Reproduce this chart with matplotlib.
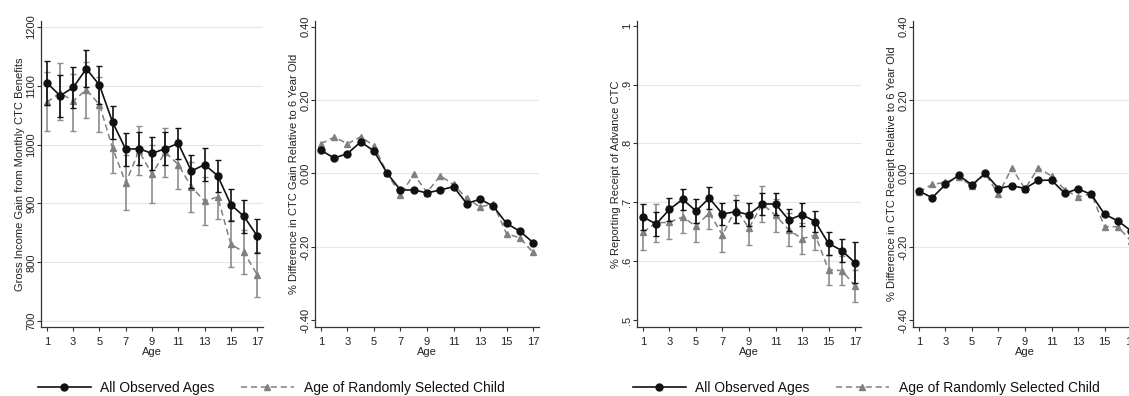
import matplotlib.pyplot as plt
import numpy as np
from matplotlib.lines import Line2D

plt.rcParams['font.family'] = ['Liberation Sans', 'DejaVu Sans']

ages = np.arange(1, 18)

# Gross income gain from monthly CTC (dollars)
gain_all = [1105, 1083, 1097, 1129, 1101, 1038, 992, 993, 985, 993, 1002,
            955, 966, 947, 898, 878, 845]
gain_all_lo = [1068, 1047, 1063, 1097, 1069, 1010, 963, 965, 957, 965, 975,
               927, 938, 920, 870, 850, 816]
gain_all_hi = [1142, 1118, 1132, 1161, 1133, 1066, 1020, 1021, 1013, 1021,
               1029, 983, 995, 974, 925, 905, 874]
gain_rand = [1072, 1088, 1074, 1093, 1068, 994, 935, 989, 950, 987, 966,
             928, 904, 911, 831, 817, 779]
gain_rand_lo = [1023, 1041, 1023, 1046, 1021, 951, 888, 948, 900, 945, 924,
                885, 863, 873, 792, 780, 741]
gain_rand_hi = [1123, 1139, 1120, 1140, 1115, 1037, 982, 1031, 1000, 1029,
                1008, 971, 945, 951, 871, 854, 817]

# Gain relative to 6 year old
gain_rel_all = [0.063, 0.042, 0.054, 0.086, 0.061, 0.0, -0.045, -0.045,
                -0.053, -0.045, -0.036, -0.082, -0.070, -0.089, -0.136,
                -0.157, -0.188]
gain_rel_rand = [0.081, 0.099, 0.081, 0.100, 0.075, 0.0, -0.059, -0.002,
                 -0.052, -0.006, -0.030, -0.068, -0.091, -0.083, -0.164,
                 -0.175, -0.215]

# Share reporting receipt of advance CTC
recv_all = [0.675, 0.663, 0.688, 0.705, 0.685, 0.707, 0.680, 0.684, 0.679,
            0.697, 0.697, 0.670, 0.679, 0.667, 0.630, 0.618, 0.597]
recv_all_err = [0.022, 0.021, 0.020, 0.018, 0.020, 0.019, 0.019, 0.019,
                0.020, 0.019, 0.018, 0.019, 0.019, 0.018, 0.019, 0.019,
                0.035]
recv_rand = [0.649, 0.665, 0.666, 0.675, 0.659, 0.682, 0.644, 0.689, 0.656,
             0.697, 0.678, 0.653, 0.638, 0.644, 0.585, 0.584, 0.558]
recv_rand_err = [0.030, 0.032, 0.028, 0.028, 0.027, 0.028, 0.029, 0.024,
                 0.028, 0.030, 0.028, 0.028, 0.026, 0.025, 0.026, 0.025,
                 0.027]

# Receipt relative to 6 year old
recv_rel_all = [-0.048, -0.066, -0.030, -0.005, -0.031, 0.0, -0.041, -0.033,
                -0.041, -0.019, -0.018, -0.054, -0.042, -0.057, -0.111,
                -0.129, -0.156]
recv_rel_rand = [-0.050, -0.030, -0.024, -0.010, -0.034, 0.0, -0.057, 0.015,
                 -0.042, 0.015, -0.007, -0.044, -0.064, -0.055, -0.145,
                 -0.145, -0.184]

gain_ticks = [700, 800, 900, 1000, 1100, 1200]
gain_labels = ['700', '800', '900', '1000', '1100', '1200']
rel_ticks = [-0.4, -0.2, 0.0, 0.2, 0.4]
rel_labels = ['-0.40', '-0.20', '0.00', '0.20', '0.40']
recv_ticks = [0.5, 0.6, 0.7, 0.8, 0.9, 1.0]
recv_labels = ['.5', '.6', '.7', '.8', '.9', '1']

W, H = 1129, 396
BLACK = '#111111'
GRAY = '#808080'
DASH = (4, 2.5)

fig = plt.figure(figsize=(W / 100, H / 100), dpi=100)


def make_axes(left, right, top=21, bottom=327):
    return fig.add_axes([left / W, 1 - bottom / H, (right - left) / W,
                         (bottom - top) / H])


def style_axes(ax, ylim, ticks, labels, ylabel, grid_ticks):
    ax.set_xlim(0.55, 17.45)
    ax.set_ylim(*ylim)
    for s in ['top', 'right']:
        ax.spines[s].set_visible(False)
    for s in ['left', 'bottom']:
        ax.spines[s].set_color('#333333')
        ax.spines[s].set_linewidth(0.9)
    ax.set_xticks(np.arange(1, 18, 2))
    ax.set_yticks(ticks)
    ax.set_yticklabels(labels, rotation=90, va='center')
    ax.tick_params(length=3, width=0.8, colors='#333333', labelsize=8,
                   labelcolor='#222222')
    ax.tick_params(axis='x', pad=4)
    ax.tick_params(axis='y', pad=0.5)
    for g in grid_ticks:
        ax.axhline(g, color='#e6e6e6', lw=0.8, zorder=0)
    ax.set_xlabel('Age', fontsize=8, labelpad=0.5, color='#222222')
    ax.set_ylabel(ylabel, fontsize=8, labelpad=0.5, color='#222222')


def draw_pair(ax, y_all, y_rand, err_all=None, err_rand=None):
    if err_rand is not None:
        ax.errorbar(ages, y_rand, yerr=err_rand, fmt='none', ecolor='#8c8c8c',
                    elinewidth=1.2, capsize=2.5, capthick=1.0, zorder=2)
    ax.plot(ages, y_rand, color=GRAY, lw=1.1, dashes=DASH, marker='^',
            markersize=5, markeredgecolor=GRAY, markerfacecolor=GRAY,
            zorder=3)
    if err_all is not None:
        ax.errorbar(ages, y_all, yerr=err_all, fmt='none', ecolor=BLACK,
                    elinewidth=1.2, capsize=2.5, capthick=1.0, zorder=4)
    ax.plot(ages, y_all, color=BLACK, lw=1.2, marker='o', markersize=5,
            markeredgecolor=BLACK, markerfacecolor=BLACK, zorder=5)


# Panel 1: dollar gain with confidence intervals
ax1 = make_axes(41, 263)
g_all = np.array(gain_all)
g_rand = np.array(gain_rand)
err1 = [g_all - np.array(gain_all_lo), np.array(gain_all_hi) - g_all]
err1r = [g_rand - np.array(gain_rand_lo), np.array(gain_rand_hi) - g_rand]
draw_pair(ax1, g_all, g_rand, err1, err1r)
style_axes(ax1, (690, 1210), gain_ticks, gain_labels,
           'Gross Income Gain from Monthly CTC Benefits', gain_ticks)

# Panel 2: gain relative to age 6
ax2 = make_axes(315, 539)
draw_pair(ax2, gain_rel_all, gain_rel_rand)
style_axes(ax2, (-0.418, 0.415), rel_ticks, rel_labels,
           '% Difference in CTC Gain Relative to 6 Year Old', [-0.2, 0.0, 0.2])

# Panel 3: receipt share with confidence intervals
ax3 = make_axes(637, 861)
draw_pair(ax3, recv_all, recv_rand, recv_all_err, recv_rand_err)
style_axes(ax3, (0.488, 1.008), recv_ticks, recv_labels,
           '% Reporting Receipt of Advance CTC', [0.6, 0.7, 0.8, 0.9])

# Panel 4: receipt relative to age 6 (runs past the right edge)
ax4 = make_axes(913, 1137)
draw_pair(ax4, recv_rel_all, recv_rel_rand)
style_axes(ax4, (-0.418, 0.415), rel_ticks, rel_labels,
           '% Difference in CTC Receipt Relative to 6 Year Old',
           [-0.2, 0.0, 0.2])

handles = [
    Line2D([], [], color=BLACK, lw=1.2, marker='o', markersize=5),
    Line2D([], [], color=GRAY, lw=1.1, dashes=DASH, marker='^',
           markersize=5),
]
names = ['All Observed Ages', 'Age of Randomly Selected Child']
for cx in [271, 866]:
    fig.legend(handles, names, loc='center', bbox_to_anchor=(cx / W, 1 - 388 / H),
               ncol=2, frameon=False, fontsize=10, handlelength=3.8,
               handletextpad=0.7, columnspacing=1.9, numpoints=1,
               labelcolor='#111111')

fig.savefig('out.png', dpi=100)
